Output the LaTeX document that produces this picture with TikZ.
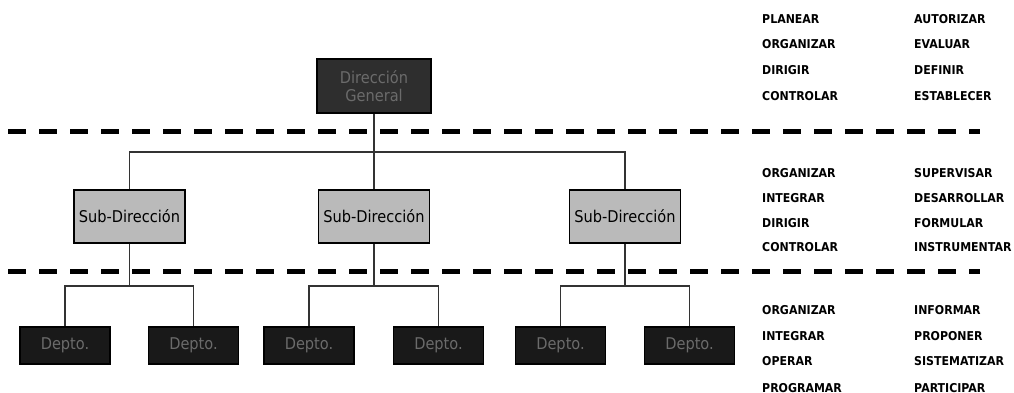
\documentclass[tikz,border=0pt]{standalone}
\usepackage{fontspec}
\setmainfont{DejaVu Sans}
\newfontfamily\boxfont{DejaVu Sans Condensed}
\newfontfamily\listfont{DejaVu Sans}[FakeStretch=0.9]
\begin{document}
\begin{tikzpicture}[x=1pt,y=-1pt,
  orgbox/.style={draw=black, line width=1.2pt, minimum height=37pt, minimum width=90pt,
                 inner sep=0pt, align=center, font=\boxfont\fontsize{16.2}{17.5}\selectfont},
  topbox/.style={orgbox, fill=black!82, text=black!58, minimum width=114pt, minimum height=54pt},
  subbox/.style={orgbox, fill=black!27, text=black, minimum width=111pt, minimum height=53pt},
  deptbox/.style={orgbox, fill=black!90, text=black!58},
  link/.style={draw=black!80, line width=1.3pt},
  divider/.style={line width=5pt, dash pattern=on 18pt off 13pt},
  verb/.style={anchor=base west, inner sep=0pt, font=\listfont\bfseries\fontsize{12.2}{14}\selectfont, text=black}
]
\useasboundingbox (0,0) rectangle (1014,393);

% level 1
\node[topbox] (dg) at (374,86) {Dirección\\General};

% level 2
\node[subbox] (s1) at (129.5,216.5) {Sub-Dirección};
\node[subbox] (s2) at (374,216.5) {Sub-Dirección};
\node[subbox] (s3) at (625,216.5) {Sub-Dirección};

% level 3
\node[deptbox] (d1) at (65,345.5) {Depto.};
\node[deptbox] (d2) at (193.5,345.5) {Depto.};
\node[deptbox] (d3) at (309,345.5) {Depto.};
\node[deptbox] (d4) at (438.5,345.5) {Depto.};
\node[deptbox] (d5) at (560.5,345.5) {Depto.};
\node[deptbox] (d6) at (689.5,345.5) {Depto.};

% connectors
\coordinate (j1) at (374,152);
\draw[link] (dg.south) -- (s2.north);
\draw[link] (s1.north) |- (j1) -| (s3.north);

\coordinate (k1) at (129.5,286);
\coordinate (k2) at (374,286);
\coordinate (k3) at (625,286);
\draw[link] (s1.south) -- (k1);
\draw[link] (d1.north) |- (k1) -| (d2.north);
\draw[link] (s2.south) -- (k2);
\draw[link] (d3.north) |- (k2) -| (d4.north);
\draw[link] (s3.south) -- (k3);
\draw[link] (d5.north) |- (k3) -| (d6.north);

% level dividers
\coordinate (a1) at (8,132);
\coordinate (a2) at (980,132);
\coordinate (b1) at (8,271);
\coordinate (b2) at (980,271);
\draw[divider] (a1) -- (a2);
\draw[divider] (b1) -- (b2);

% functions of each level
\node[verb] (p1) at (762,23.5) {PLANEAR};
\node[verb] (p2) at (762,48.5) {ORGANIZAR};
\node[verb] (p3) at (762,74.5) {DIRIGIR};
\node[verb] (p4) at (762,100.5) {CONTROLAR};
\node[verb] (q1) at (914,23.5) {AUTORIZAR};
\node[verb] (q2) at (914,48.5) {EVALUAR};
\node[verb] (q3) at (914,74.5) {DEFINIR};
\node[verb] (q4) at (914,100.5) {ESTABLECER};

\node[verb] (p5) at (762,177.5) {ORGANIZAR};
\node[verb] (p6) at (762,202.5) {INTEGRAR};
\node[verb] (p7) at (762,227.5) {DIRIGIR};
\node[verb] (p8) at (762,251.5) {CONTROLAR};
\node[verb] (q5) at (914,177.5) {SUPERVISAR};
\node[verb] (q6) at (914,202.5) {DESARROLLAR};
\node[verb] (q7) at (914,227.5) {FORMULAR};
\node[verb] (q8) at (914,251.5) {INSTRUMENTAR};

\node[verb] (p9) at (762,314.5) {ORGANIZAR};
\node[verb] (p10) at (762,340.5) {INTEGRAR};
\node[verb] (p11) at (762,365.5) {OPERAR};
\node[verb] (p12) at (762,392) {PROGRAMAR};
\node[verb] (q9) at (914,314.5) {INFORMAR};
\node[verb] (q10) at (914,340.5) {PROPONER};
\node[verb] (q11) at (914,365.5) {SISTEMATIZAR};
\node[verb] (q12) at (914,392) {PARTICIPAR};
\end{tikzpicture}
\end{document}
